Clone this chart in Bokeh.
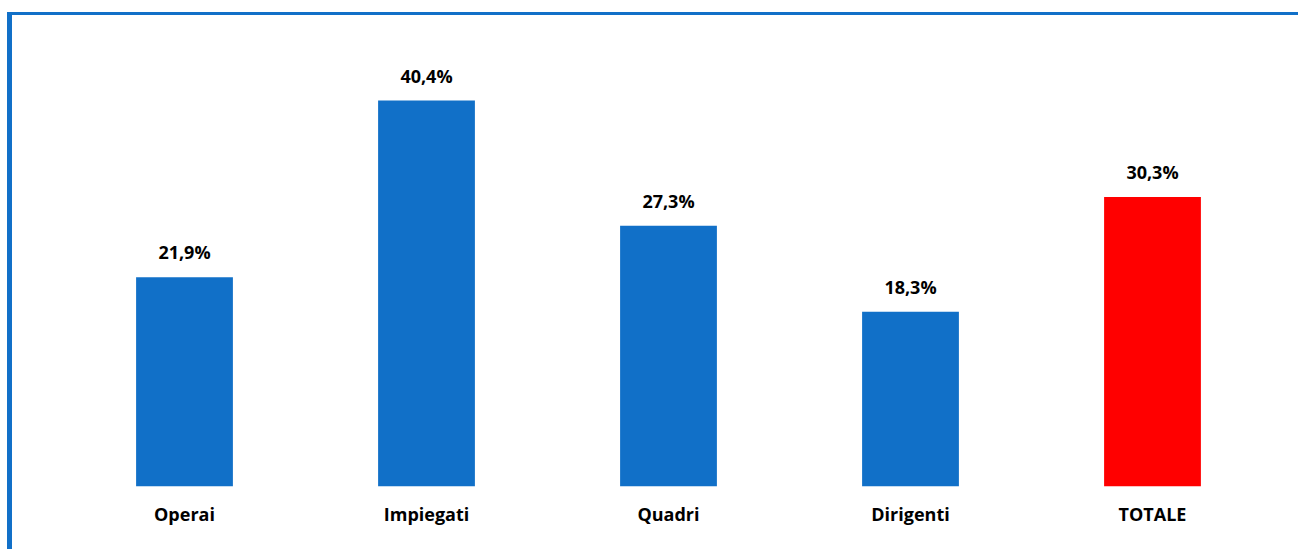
from bokeh.plotting import figure
from bokeh.models import ColumnDataSource, LabelSet, Range1d, FactorRange
from bokeh.core.properties import value
from bokeh.embed import file_html
from bokeh.resources import INLINE

categories = ["Operai", "Impiegati", "Quadri", "Dirigenti", "TOTALE"]
values = [21.9, 40.4, 27.3, 18.3, 30.3]
labels = ["21,9%", "40,4%", "27,3%", "18,3%", "30,3%"]
colors = ["#1170C8", "#1170C8", "#1170C8", "#1170C8", "#FF0000"]

src = ColumnDataSource(dict(cat=categories, val=values, lab=labels, col=colors))

p = figure(
    width=1286, height=534,
    x_range=FactorRange(factors=categories),
    y_range=Range1d(0, 49.3),
    output_backend="svg", toolbar_location=None,
    min_border_left=51, min_border_right=30, min_border_top=0, min_border_bottom=66,
    styles={"margin-left": "7px", "margin-top": "12px",
            "border-left": "5px solid #1170C8", "border-top": "3px solid #1170C8",
            "box-sizing": "content-box"},
)
p.vbar(x="cat", top="val", width=0.4, color="col", source=src, line_color=None)

p.add_layout(LabelSet(x="cat", y="val", text="lab", source=src, y_offset=18,
                      text_align="center", text_baseline="alphabetic",
                      text_font=value("Open Sans"), text_font_style="bold",
                      text_font_size="18px", text_color="#000000"))

p.yaxis.visible = False
p.xgrid.visible = False
p.ygrid.visible = False
p.outline_line_color = None
p.xaxis.axis_line_color = None
p.xaxis.major_tick_line_color = None
p.xaxis.minor_tick_line_color = None
p.xaxis.major_label_text_font = "Open Sans"
p.xaxis.major_label_text_font_style = "bold"
p.xaxis.major_label_text_font_size = "18px"
p.xaxis.major_label_text_color = "#000000"
p.xaxis.major_label_standoff = 9

open("out.html", "w").write(file_html(p, INLINE))
